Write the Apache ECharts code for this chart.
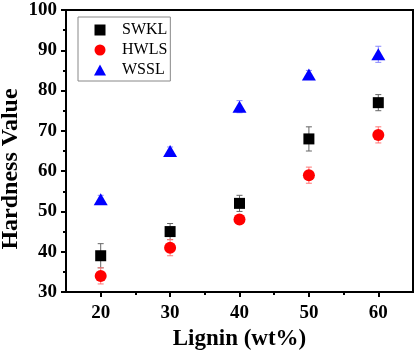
<!DOCTYPE html>
<html>
<head>
<meta charset="utf-8">
<script src="https://cdn.jsdelivr.net/npm/echarts@6/dist/echarts.min.js"></script>
<style>
  html, body { margin: 0; padding: 0; background: #fff; }
  #chart { width: 416px; height: 354px; }
</style>
</head>
<body>
<div id="chart"></div>
<script>
// lignin content (wt%)
var lignin = [20, 30, 40, 50, 60];
// hardness values and error (±)
var swkl = [39, 45, 52, 68, 77];
var swklErr = [3, 2, 2, 3, 2];
var hwls = [34, 41, 48, 59, 69];
var hwlsErr = [2, 2, 1, 2, 2];
var wssl = [53, 65, 76, 84, 89];
var wsslErr = [1, 1, 1.5, 1, 2];

var majorX = [20, 30, 40, 50, 60];
var minorX = [25, 35, 45, 55];

var FONT = 'Liberation Serif';
var SQUARE = 'path://M0,0L10,0L10,10L0,10Z';
var TRI = 'path://M6,0L12,11L0,11Z';

function pts(vals) {
  return lignin.map(function (x, i) { return [x, vals[i]]; });
}
function errs(vals, e) {
  return lignin.map(function (x, i) { return [x, vals[i] - e[i], vals[i] + e[i]]; });
}

function errSeries(data, color) {
  return {
    type: 'custom',
    silent: true,
    z: 1,
    data: data,
    renderItem: function (params, api) {
      var lo = api.coord([api.value(0), api.value(1)]);
      var hi = api.coord([api.value(0), api.value(2)]);
      var w = 3;
      var style = { stroke: color, lineWidth: 1 };
      return {
        type: 'group',
        children: [
          { type: 'line', shape: { x1: lo[0], y1: lo[1], x2: hi[0], y2: hi[1] }, style: style },
          { type: 'line', shape: { x1: lo[0] - w, y1: lo[1], x2: lo[0] + w, y2: lo[1] }, style: style },
          { type: 'line', shape: { x1: hi[0] - w, y1: hi[1], x2: hi[0] + w, y2: hi[1] }, style: style }
        ]
      };
    }
  };
}

var chart = echarts.init(document.getElementById('chart'));
chart.setOption({
  animation: false,
  grid: {
    left: 66, right: 3, top: 10, bottom: 62,
    outerBoundsMode: 'none', containLabel: false,
    show: true, borderColor: '#000', borderWidth: 2
  },
  legend: {
    orient: 'vertical',
    left: 78, top: 17,
    padding: [5, 3, 3, 16],
    itemWidth: 12, itemHeight: 11, itemGap: 4,
    borderColor: '#888', borderWidth: 1,
    textStyle: { fontFamily: FONT, fontSize: 16, color: '#000', padding: [0, 0, 0, 11] },
    data: [
      { name: 'SWKL', icon: SQUARE },
      { name: 'HWLS', icon: 'circle' },
      { name: 'WSSL', icon: TRI }
    ]
  },
  // y axis title placed directly (the axis name got clipped at the left edge)
  graphic: [{
    type: 'text',
    x: 11, y: 169,
    rotation: Math.PI / 2,
    style: {
      text: 'Hardness Value',
      fontFamily: FONT, fontSize: 24, fontWeight: 'bold', fill: '#000',
      align: 'center', verticalAlign: 'middle'
    }
  }],
  xAxis: [{
    type: 'value', min: 15, max: 65,
    name: 'Lignin (wt%)', nameLocation: 'middle', nameGap: 36,
    nameTextStyle: { fontFamily: FONT, fontSize: 23, fontWeight: 'bold', color: '#000' },
    axisLine: { lineStyle: { color: '#000', width: 2 } },
    axisTick: { length: 5, lineStyle: { width: 2 }, customValues: majorX },
    axisLabel: { customValues: majorX, margin: 12, fontFamily: FONT, fontSize: 19, fontWeight: 700, color: '#000' },
    splitLine: { show: false }
  }, {
    type: 'value', min: 15, max: 65, position: 'bottom',
    axisLine: { show: false },
    axisTick: { length: 3, lineStyle: { width: 2, color: '#000' }, customValues: minorX },
    axisLabel: { show: false },
    splitLine: { show: false }
  }],
  yAxis: {
    type: 'value', min: 30, max: 100, interval: 10,
    axisLine: { show: true, lineStyle: { color: '#000', width: 2 } },
    axisTick: { show: true, length: 5, lineStyle: { width: 2 } },
    minorTick: { show: true, splitNumber: 2, length: 3, lineStyle: { color: '#000', width: 2 } },
    axisLabel: { margin: 9, fontFamily: FONT, fontSize: 19, fontWeight: 700, color: '#000' },
    splitLine: { show: false }
  },
  series: [
    errSeries(errs(swkl, swklErr), '#666'),
    errSeries(errs(hwls, hwlsErr), '#ff7777'),
    errSeries(errs(wssl, wsslErr), '#8888ff'),
    { name: 'SWKL', type: 'scatter', z: 3, symbol: 'rect', symbolSize: 11, itemStyle: { color: '#000', opacity: 1 }, data: pts(swkl) },
    { name: 'HWLS', type: 'scatter', z: 3, symbol: 'circle', symbolSize: 12, itemStyle: { color: '#ff0000', opacity: 1 }, data: pts(hwls) },
    { name: 'WSSL', type: 'scatter', z: 3, symbol: 'triangle', symbolSize: [14, 12], itemStyle: { color: '#0000ff', opacity: 1 }, data: pts(wssl) }
  ]
});
</script>
</body>
</html>
